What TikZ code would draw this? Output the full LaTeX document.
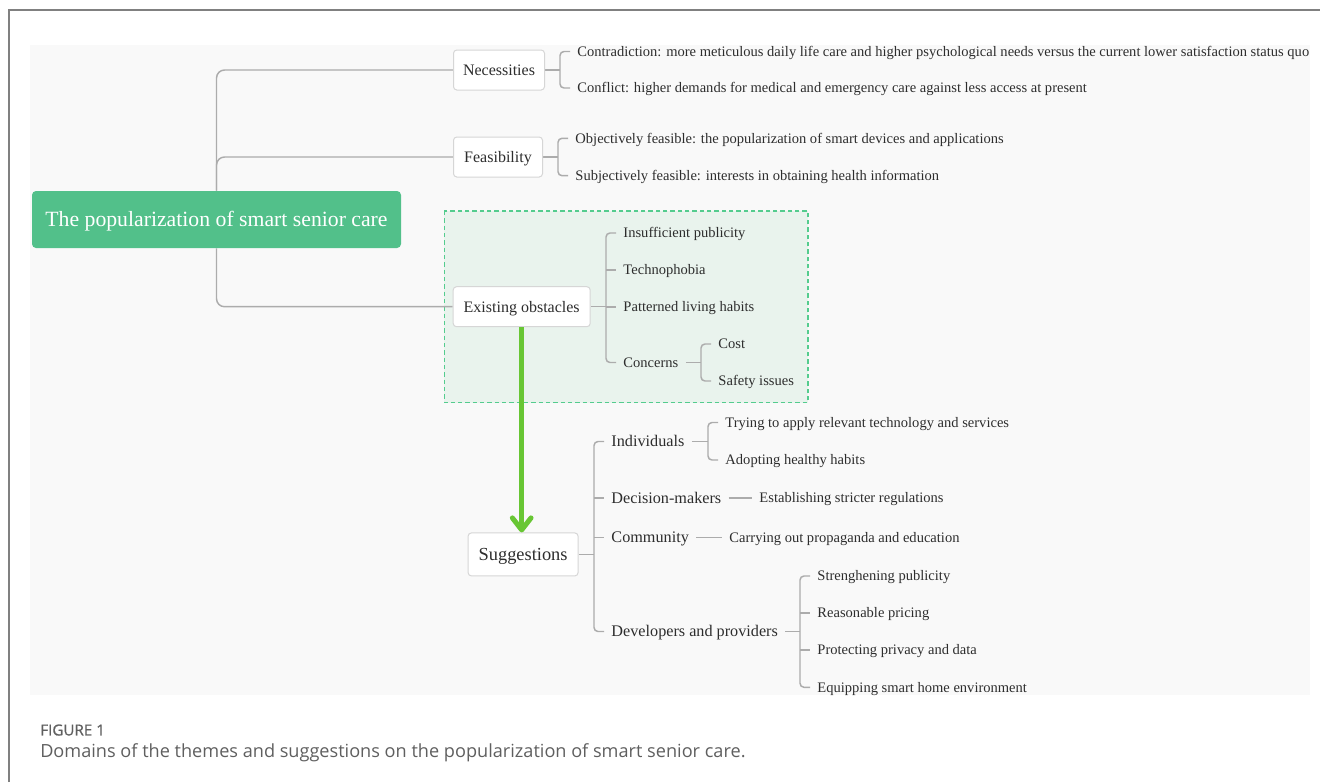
\documentclass[tikz,border=0pt]{standalone}
\usepackage{fontspec}
\setmainfont{Liberation Serif}
\newfontfamily\capfont{Open Sans}
\newfontfamily\caplabelfont{Open Sans}[FakeBold=0.8]
\usetikzlibrary{arrows.meta,calc,backgrounds}

\definecolor{rootgreen}{RGB}{82,192,138}
\definecolor{arrowgreen}{RGB}{104,198,52}
\definecolor{dashgreen}{RGB}{84,204,142}
\definecolor{zonefill}{RGB}{233,243,237}
\definecolor{panel}{RGB}{249,249,249}
\definecolor{branchgray}{RGB}{172,172,172}
\definecolor{boxline}{RGB}{214,214,214}
\definecolor{ink}{RGB}{45,45,45}
\definecolor{framegray}{RGB}{128,128,128}
\definecolor{capgray}{RGB}{95,95,95}

\begin{document}
\begin{tikzpicture}[x=0.75pt,y=-0.75pt,
  branch/.style={draw=branchgray, line width=1.1pt},
  bracketline/.style={branch, rounded corners=3pt},
  rootbox/.style={fill=rootgreen, text=white, rounded corners=3pt,
    minimum width=276.75pt, minimum height=42.75pt, inner sep=0pt,
    font=\fontsize{16.3}{19}\selectfont, text height=11.1pt, text depth=0.3pt},
  topic/.style={draw=boxline, fill=white, line width=0.75pt, rounded corners=2.5pt,
    text=ink, minimum height=30pt, inner xsep=0pt, inner ysep=0pt, anchor=west,
    font=\fontsize{12}{14}\selectfont, text height=8.2pt, text depth=0.2pt},
  bigtopic/.style={topic, minimum height=32.25pt,
    font=\fontsize{13.8}{16}\selectfont, text height=9.4pt, text depth=0.2pt},
  subtopic/.style={text=ink, inner xsep=0pt, inner ysep=0pt, outer xsep=5.6pt, outer ysep=0pt,
    anchor=west, font=\fontsize{12.15}{14}\selectfont, text height=8.3pt, text depth=0.2pt},
  leaf/.style={text=ink, inner xsep=0pt, inner ysep=0pt, outer xsep=5.6pt, outer ysep=0pt,
    anchor=west, font=\fontsize{10.9}{13}\selectfont, text height=7.4pt, text depth=0.2pt},
  zone/.style={draw=dashgreen, fill=zonefill, line width=1.1pt, dash pattern=on 3.2pt off 2.3pt},
  flow/.style={draw=arrowgreen, line width=3.75pt,
    -{Straight Barb[length=9pt,width=14pt,round]}},
  caplabel/.style={anchor=west, inner sep=0pt, text=capgray}
]
\useasboundingbox (0,0) rectangle (1320,782);

% central topic and main branches
\node[rootbox] (root) at (216.5,219.5) {The popularization of smart senior care};
\node[topic, minimum width=68.25pt] (nec) at (453,70) {Necessities};
\node[topic, minimum width=66.75pt] (feas) at (453,157) {Feasibility};
\node[topic, minimum width=102.75pt] (obs) at (452.7,306.7) {Existing obstacles};
\node[bigtopic, minimum width=82.5pt] (sugg) at (467.6,554.4) {Suggestions};

% necessities
\node[leaf] (con) at (570,51.5) {Contradiction: more meticulous daily life care and higher psychological needs versus the current lower satisfaction status quo};
\node[leaf] (cfl) at (570,88) {Conflict: higher demands for medical and emergency care against less access at present};

% feasibility
\node[leaf] (obj) at (568,138.3) {Objectively feasible: the popularization of smart devices and applications};
\node[leaf] (subj) at (568,175.7) {Subjectively feasible: interests in obtaining health information};

% obstacles
\node[leaf] (ins) at (616,233) {Insufficient publicity};
\node[leaf] (tec) at (616,270) {Technophobia};
\node[leaf] (pat) at (616,307) {Patterned living habits};
\node[leaf] (cns) at (616,362.5) {Concerns};
\node[leaf] (cst) at (711,344) {Cost};
\node[leaf] (saf) at (711,381) {Safety issues};

% suggestions
\node[subtopic] (ind) at (604,441.5) {Individuals};
\node[subtopic] (dec) at (604,498) {Decision-makers};
\node[subtopic] (com) at (604,537.5) {Community};
\node[subtopic] (dev) at (604,631.5) {Developers and providers};
\node[leaf] (try) at (718,422.5) {Trying to apply relevant technology and services};
\node[leaf] (ado) at (718,460) {Adopting healthy habits};
\node[leaf] (est) at (752,498) {Establishing stricter regulations};
\node[leaf] (car) at (722,537.5) {Carrying out propaganda and education};
\node[leaf] (str) at (810,576) {Strenghening publicity};
\node[leaf] (rea) at (810,613) {Reasonable pricing};
\node[leaf] (pro) at (810,650) {Protecting privacy and data};
\node[leaf] (equ) at (810,687.3) {Equipping smart home environment};

% bracket spines
\coordinate (bnec) at ($(con.west)+(-10,0)$);
\coordinate (bfeas) at ($(obj.west)+(-10,0)$);
\coordinate (bobs) at ($(ins.west)+(-10,0)$);
\coordinate (bcns) at ($(cst.west)+(-10,0)$);
\coordinate (bsug) at ($(ind.west)+(-10,0)$);
\coordinate (bind) at ($(try.west)+(-10,0)$);
\coordinate (bdev) at ($(str.west)+(-10,0)$);

\begin{pgfonlayer}{background}
% page frame and diagram panel
\draw[framegray, line width=1.5pt] (8.5,782) -- (8.5,9.5) -- (1320,9.5);
\fill[panel] (30,45) rectangle (1310,695);

% highlighted obstacle zone
\draw[zone] (444.3,211) rectangle (808,402.5);

% root to main topics
\draw[branch, rounded corners=6pt] (root.north) |- (nec.west);
\draw[branch, rounded corners=6pt] (root.north) |- (feas.west);
\draw[branch, rounded corners=6pt] (root.south) |- (obs.west);

% necessities
\draw[branch] (nec.east) -- (bnec |- nec.east);
\draw[bracketline] (con.west) -| (bnec |- cfl.west) -- (cfl.west);

% feasibility
\draw[branch] (feas.east) -- (bfeas |- feas.east);
\draw[bracketline] (obj.west) -| (bfeas |- subj.west) -- (subj.west);

% obstacles
\draw[branch] (obs.east) -- (bobs |- obs.east);
\draw[bracketline] (ins.west) -| (bobs |- cns.west) -- (cns.west);
\draw[branch] (bobs |- tec.west) -- (tec.west);
\draw[branch] (bobs |- pat.west) -- (pat.west);
\draw[branch] (cns.east) -- (bcns |- cns.east);
\draw[bracketline] (cst.west) -| (bcns |- saf.west) -- (saf.west);

% suggestions
\draw[branch] (sugg.east) -- (bsug |- sugg.east);
\draw[bracketline] (ind.west) -| (bsug |- dev.west) -- (dev.west);
\draw[branch] (bsug |- dec.west) -- (dec.west);
\draw[branch] (bsug |- com.west) -- (com.west);
\draw[branch] (ind.east) -- (bind |- ind.east);
\draw[bracketline] (try.west) -| (bind |- ado.west) -- (ado.west);
\draw[branch] (dec.east) -- (est.west);
\draw[branch] (com.east) -- (car.west);
\draw[branch] (dev.east) -- (bdev |- dev.east);
\draw[bracketline] (str.west) -| (bdev |- equ.west) -- (equ.west);
\draw[branch] (bdev |- rea.west) -- (rea.west);
\draw[branch] (bdev |- pro.west) -- (pro.west);
\end{pgfonlayer}

% obstacles lead to suggestions
\draw[flow] (obs.south) -- (obs.south |- sugg.north);

% caption
\node[caplabel, font=\caplabelfont\fontsize{11.4}{13}\selectfont] (figlabel) at (40,730) {FIGURE 1};
\node[caplabel, font=\capfont\fontsize{13.6}{16}\selectfont] (caption) at (40,753) {Domains of the themes and suggestions on the popularization of smart senior care.};
\end{tikzpicture}
\end{document}
